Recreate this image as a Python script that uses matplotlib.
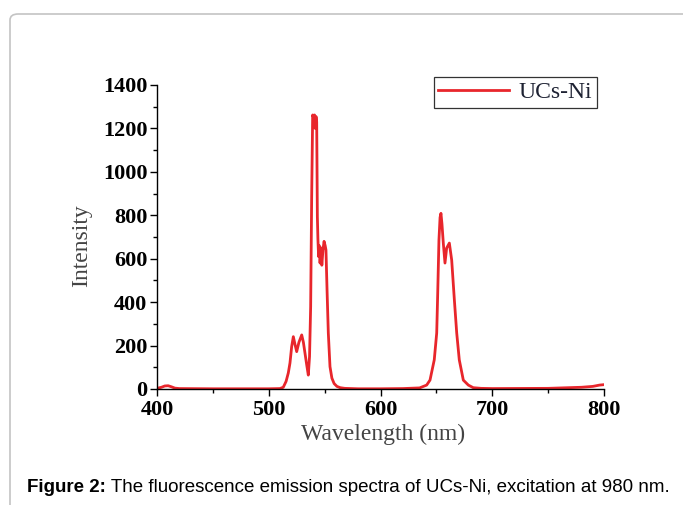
import matplotlib
matplotlib.use("Agg")
import matplotlib.pyplot as plt
from matplotlib.patches import FancyBboxPatch
from matplotlib.ticker import MultipleLocator

wavelength = [400, 404, 407, 410, 413, 416, 420, 450, 500, 510, 513, 515.5, 517.5,
              519, 520.5, 522, 523.5, 525, 527, 529.5, 531, 532.4, 534, 535.4, 536.5,
              537.5, 538.4, 539.3, 540.2, 541.0, 541.6, 542.3, 542.9, 543.5, 544.0,
              544.6, 545.2, 545.9, 546.8, 547.5, 548.5, 549.5, 550.5, 551.2, 552.2,
              553.3, 554.8, 556.5, 558.5, 561, 564, 568, 580, 600, 620, 635, 641.3,
              644.3, 648.1, 650.3, 651.2, 652.3, 653.3, 654.1, 655.0, 656.2, 657.7,
              659.2, 661.6, 663.7, 666.1, 668.2, 670.5, 674.1, 678.6, 683, 690, 700,
              750, 780, 790, 796, 800]
intensity = [3, 8, 14, 15, 10, 4, 2, 1, 1, 2, 8, 35, 74,
             120, 195, 241, 205, 172, 215, 249, 215, 166, 110, 64, 150,
             379, 880, 1262, 1250, 1262, 1200, 1255, 1230, 794, 690,
             610, 660, 580, 650, 570, 640, 680, 660, 640, 450,
             258, 103, 50, 25, 12, 6, 3, 1, 1, 2, 5, 18,
             41, 134, 258, 442, 686, 790, 809, 760, 672, 580,
             649, 672, 594, 410, 258, 134, 41, 18, 6, 3, 2,
             3, 8, 12, 18, 20]

series_name = "UCs-Ni"
x_label = "Wavelength (nm)"
y_label = "Intensity"
caption_bold = "Figure 2:"
caption_text = " The fluorescence emission spectra of UCs-Ni, excitation at 980 nm."

W, H = 683, 505
fig = plt.figure(figsize=(W / 100, H / 100), dpi=100)

# rounded frame of the page box
frame = FancyBboxPatch((10 / W, -0.2), 1.2, (1 - 14 / H) + 0.2,
                       boxstyle="round,pad=0,rounding_size=0.012",
                       transform=fig.transFigure, facecolor="none",
                       edgecolor="#c4c4c4", linewidth=1.2)
fig.patches.append(frame)

ax = fig.add_axes([157 / W, 1 - 389 / H, (604 - 157) / W, (389 - 85) / H])
ax.plot(wavelength, intensity, color="#e8262c", linewidth=2.0, label=series_name,
        solid_joinstyle="round")
ax.set_xlim(400, 800)
ax.set_ylim(0, 1400)
ax.spines["top"].set_visible(False)
ax.spines["right"].set_visible(False)
for s in ("left", "bottom"):
    ax.spines[s].set_linewidth(1.0)
ax.xaxis.set_major_locator(MultipleLocator(100))
ax.xaxis.set_minor_locator(MultipleLocator(50))
ax.yaxis.set_major_locator(MultipleLocator(200))
ax.yaxis.set_minor_locator(MultipleLocator(100))
ax.tick_params(which="major", direction="out", length=5, width=1)
ax.tick_params(which="minor", direction="out", length=3, width=1)
ax.tick_params(axis="x", which="major", pad=3)
ax.tick_params(axis="y", which="major", pad=2)
for lab in ax.get_xticklabels() + ax.get_yticklabels():
    lab.set_fontfamily("Liberation Serif")
    lab.set_fontweight("bold")
    lab.set_fontsize(16)

ax.set_xlabel(x_label, fontfamily="Liberation Serif", fontsize=17, color="#444444")
ax.set_ylabel(y_label, fontfamily="Liberation Serif", fontsize=17, color="#444444")
ax.xaxis.set_label_coords(0.505, -0.115)
ax.yaxis.set_label_coords(-0.145, 0.47)

leg = ax.legend(loc="upper right", bbox_to_anchor=(597 / W, 1 - 77 / H),
                bbox_transform=fig.transFigure, frameon=True, fancybox=False,
                prop={"family": "Liberation Serif", "size": 17},
                handlelength=3.0, borderpad=0.2, handletextpad=0.4, borderaxespad=0)
leg.get_frame().set_edgecolor("black")
leg.get_frame().set_linewidth(0.9)
for t in leg.get_texts():
    t.set_color("#1e2233")

fig.text(27 / W, 1 - 487 / H, caption_bold, fontfamily="Liberation Sans",
         fontweight="bold", fontsize=13.5, va="center", ha="left")
fig.canvas.draw()
r = fig.texts[0].get_window_extent()
fig.text(r.x1 / W, 1 - 487 / H, caption_text, fontfamily="Liberation Sans",
         fontsize=13.5, va="center", ha="left")

fig.savefig("out.png", dpi=100)
